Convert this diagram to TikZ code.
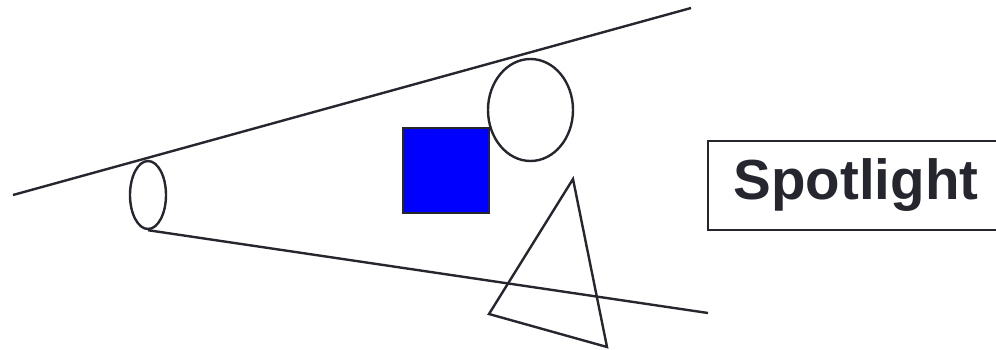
\documentclass[tikz,border=0pt]{standalone}
\usepackage{fontspec}
\usepackage{xcolor}
\newfontfamily\labelfont{Liberation Sans}
\usetikzlibrary{shapes.geometric,calc}
\definecolor{inkgray}{RGB}{38,38,46}

\begin{document}
\begin{tikzpicture}[x=1pt, y=-1pt,
  beam/.style={draw=inkgray, line width=2.4pt},
  lens/.style={draw=inkgray, line width=2.4pt, ellipse, inner sep=0pt},
  block/.style={draw=inkgray, line width=2.8pt, fill=blue, inner sep=0pt},
  tag/.style={draw=inkgray, line width=1.6pt, minimum width=296pt, minimum height=89pt,
              font=\labelfont\bfseries\fontsize{56.5}{60}\selectfont, text=inkgray}
]
\useasboundingbox (0,0) rectangle (996,349);
\clip (0,0) rectangle (996,349);

\node[lens, minimum width=36pt, minimum height=68pt] (cone) at (148,195) {};
\node[lens, minimum width=85pt, minimum height=102pt] (ball) at (530.5,110) {};
\node[block, minimum width=86pt, minimum height=85pt] (box) at (446,170.5) {};
\node[tag] (title) at (856,185.5) {Spotlight};

\coordinate (upstart) at (13,195);
\coordinate (upend) at (691,8);
\coordinate (lowend) at (708,313);
\coordinate (tritop) at (573,179);
\coordinate (trileft) at (489,314);
\coordinate (triright) at (607,347);

\draw[beam] (upstart) -- (upend);
\draw[beam] (cone.south) -- (lowend);
\draw[beam, line join=miter] (tritop) -- (trileft) -- (triright) -- cycle;
\end{tikzpicture}
\end{document}
